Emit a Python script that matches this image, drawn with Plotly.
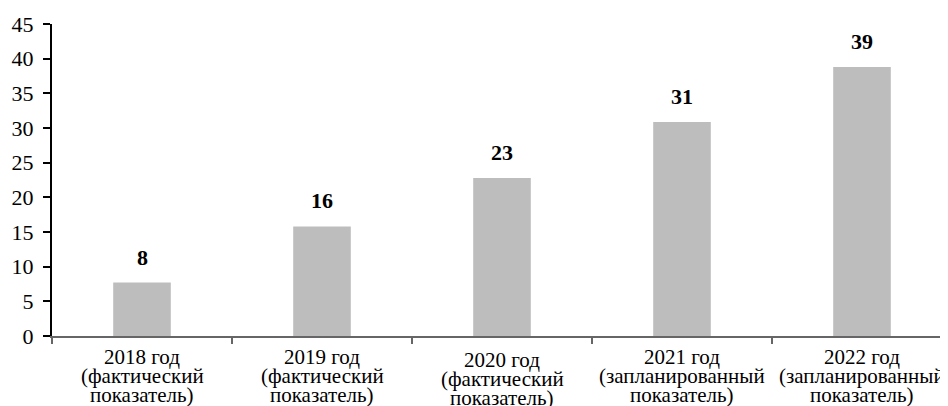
import plotly.graph_objects as go

categories = ["2018 год", "2019 год", "2020 год", "2021 год", "2022 год"]
label_lines = [
    ["2018 год", "(фактический", "показатель)"],
    ["2019 год", "(фактический", "показатель)"],
    ["2020 год", "(фактический", "показатель)"],
    ["2021 год", "(запланированный", "показатель)"],
    ["2022 год", "(запланированный", "показатель)"],
]
values = [7.7, 15.8, 22.8, 30.85, 38.8]
value_labels = ["8", "16", "23", "31", "39"]
y_ticks = [0, 5, 10, 15, 20, 25, 30, 35, 40, 45]

FONT = "Liberation Serif, Times New Roman, serif"
LABEL_DY = {"2020 год": -3}  # small vertical stagger seen in the original

fig = go.Figure()
fig.add_trace(go.Bar(
    x=categories, y=values, width=0.32,
    marker=dict(color="#bdbdbd", line=dict(width=0)),
    hoverinfo="skip",
))

annotations = []
for c, v, t in zip(categories, values, value_labels):
    annotations.append(dict(
        x=c, y=v, xref="x", yref="y", text=f"<b>{t}</b>", showarrow=False,
        yanchor="bottom", yshift=11, font=dict(family=FONT, size=22, color="black"),
    ))
shifts = [-21, -40, -59]
for c, lines in zip(categories, label_lines):
    for line, s in zip(lines, shifts):
        annotations.append(dict(
            x=c, y=0, xref="x", yref="paper", text=line, showarrow=False,
            yanchor="middle", yshift=s + LABEL_DY.get(c, 0),
            font=dict(family=FONT, size=21, color="black"),
        ))

fig.update_layout(
    width=948, height=406,
    margin=dict(l=44, r=4, t=14, b=78),
    paper_bgcolor="white", plot_bgcolor="white",
    showlegend=False,
    annotations=annotations,
    font=dict(family=FONT, size=21, color="black"),
)
fig.update_xaxes(
    type="category",
    showticklabels=False, showgrid=False, zeroline=False,
    showline=True, linecolor="#666666", linewidth=2,
    ticks="outside", tickson="boundaries", ticklen=6, tickcolor="#666666", tickwidth=1.5,
)
fig.update_yaxes(
    range=[0, 45], tickvals=y_ticks, showgrid=False, zeroline=False,
    showline=True, linecolor="black", linewidth=2,
    ticks="outside", ticklen=7, tickcolor="black", tickwidth=2,
    ticklabelstandoff=5,
    tickfont=dict(family=FONT, size=22, color="black"),
)

fig.write_html("out.html")
